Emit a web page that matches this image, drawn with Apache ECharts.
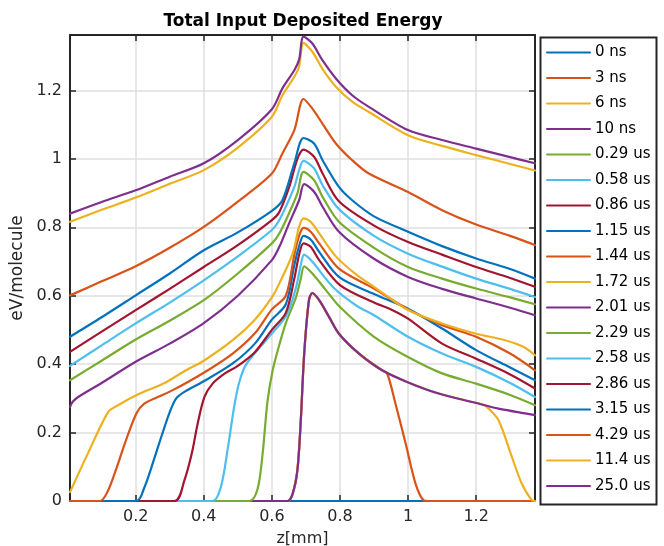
<!DOCTYPE html>
<html>
<head>
<meta charset="utf-8">
<script src="https://cdn.jsdelivr.net/npm/echarts@6/dist/echarts.min.js"></script>
<style>
  html, body { margin: 0; padding: 0; background: #fff; }
  #chart { width: 664px; height: 546px; }
</style>
</head>
<body>
<div id="chart"></div>
<script>
// legend names and MATLAB default colour order
const seriesNames = ['0 ns', '3 ns', '6 ns', '10 ns', '0.29 us', '0.58 us', '0.86 us', '1.15 us', '1.44 us',
  '1.72 us', '2.01 us', '2.29 us', '2.58 us', '2.86 us', '3.15 us', '4.29 us', '11.4 us', '25.0 us']
const colorOrder = ['#0072BD', '#D95319', '#EDB120', '#7E2F8E', '#77AC30', '#4DBEEE', '#A2142F']

// [z (mm), energy (eV/molecule)]
const e0ns = [[0.007, 0], [1.373, 0]]
const e3ns = [[0.007, 0], [0.646, 0], [0.661, 0.021], [0.675, 0.09], [0.685, 0.236], [0.695, 0.431], [0.709, 0.587],
  [0.719, 0.608], [0.739, 0.587], [0.768, 0.538], [0.797, 0.489], [0.856, 0.431], [0.924, 0.382], [0.939, 0.372],
  [0.963, 0.285], [0.993, 0.168], [1.022, 0.051], [1.046, 0.002], [1.06, 0], [1.373, 0]]
const e6ns = [[0.007, 0], [0.646, 0], [0.661, 0.021], [0.675, 0.09], [0.685, 0.236], [0.695, 0.431], [0.709, 0.587],
  [0.719, 0.608], [0.739, 0.587], [0.768, 0.538], [0.797, 0.489], [0.856, 0.431], [0.924, 0.382], [0.997, 0.348],
  [1.09, 0.314], [1.198, 0.287], [1.22, 0.282], [1.237, 0.27], [1.266, 0.236], [1.305, 0.129], [1.334, 0.051],
  [1.362, 0.004], [1.373, 0]]
const e10ns = [[0.007, 0], [0.646, 0], [0.661, 0.021], [0.675, 0.09], [0.685, 0.236], [0.695, 0.431], [0.709, 0.587],
  [0.719, 0.608], [0.739, 0.587], [0.768, 0.538], [0.797, 0.489], [0.856, 0.431], [0.924, 0.382], [0.997, 0.348],
  [1.09, 0.314], [1.198, 0.287], [1.266, 0.27], [1.373, 0.251]]
const e029us = [[0.007, 0], [0.534, 0], [0.558, 0.035], [0.573, 0.14], [0.587, 0.29], [0.602, 0.38], [0.62, 0.45],
  [0.641, 0.52], [0.671, 0.596], [0.685, 0.65], [0.695, 0.686], [0.719, 0.665], [0.76, 0.615], [0.8, 0.567],
  [0.9, 0.48], [1.0, 0.421], [1.1, 0.373], [1.2, 0.343], [1.3, 0.31], [1.373, 0.28]]
const e058us = [[0.007, 0], [0.426, 0], [0.45, 0.04], [0.47, 0.15], [0.49, 0.28], [0.505, 0.35], [0.525, 0.4],
  [0.583, 0.47], [0.641, 0.54], [0.67, 0.62], [0.685, 0.69], [0.695, 0.72], [0.719, 0.699], [0.78, 0.625],
  [0.85, 0.57], [0.9, 0.543], [1.0, 0.48], [1.1, 0.431], [1.2, 0.392], [1.3, 0.345], [1.373, 0.304]]
const e086us = [[0.007, 0], [0.314, 0], [0.343, 0.06], [0.365, 0.14], [0.382, 0.226], [0.402, 0.304], [0.426, 0.343],
  [0.461, 0.372], [0.5, 0.395], [0.55, 0.435], [0.6, 0.5], [0.641, 0.55], [0.666, 0.65], [0.68, 0.72], [0.693, 0.753],
  [0.714, 0.743], [0.739, 0.704], [0.8, 0.631], [0.9, 0.58], [0.95, 0.56], [1.0, 0.533], [1.1, 0.46], [1.2, 0.416],
  [1.3, 0.37], [1.373, 0.329]]
const e115us = [[0.007, 0], [0.202, 0], [0.226, 0.041], [0.25, 0.11], [0.275, 0.187], [0.3, 0.26], [0.319, 0.3],
  [0.343, 0.319], [0.4, 0.35], [0.485, 0.402], [0.55, 0.46], [0.6, 0.53], [0.641, 0.575], [0.666, 0.69], [0.68, 0.745],
  [0.693, 0.775], [0.714, 0.764], [0.739, 0.728], [0.797, 0.655], [0.9, 0.605], [1.0, 0.562], [1.1, 0.504],
  [1.2, 0.441], [1.3, 0.39], [1.373, 0.353]]
const e144us = [[0.007, 0], [0.095, 0], [0.119, 0.031], [0.145, 0.1], [0.168, 0.168], [0.202, 0.256], [0.226, 0.285],
  [0.265, 0.304], [0.309, 0.324], [0.4, 0.375], [0.485, 0.431], [0.55, 0.49], [0.6, 0.56], [0.641, 0.6], [0.666, 0.72],
  [0.68, 0.775], [0.693, 0.798], [0.714, 0.787], [0.739, 0.753], [0.797, 0.679], [0.9, 0.621], [1.0, 0.56],
  [1.1, 0.514], [1.2, 0.48], [1.3, 0.431], [1.373, 0.382]]
const e172us = [[0.007, 0.026], [0.06, 0.14], [0.119, 0.26], [0.148, 0.28], [0.212, 0.314], [0.285, 0.345],
  [0.348, 0.382], [0.4, 0.41], [0.485, 0.47], [0.55, 0.53], [0.6, 0.595], [0.622, 0.636], [0.661, 0.723],
  [0.68, 0.801], [0.693, 0.826], [0.714, 0.816], [0.739, 0.782], [0.788, 0.715], [0.85, 0.66], [0.9, 0.626],
  [1.0, 0.558], [1.1, 0.519], [1.2, 0.489], [1.285, 0.47], [1.34, 0.45], [1.373, 0.426]]
const e201us = [[0.007, 0.275], [0.015, 0.29], [0.031, 0.304], [0.1, 0.345], [0.2, 0.407], [0.3, 0.46], [0.4, 0.52],
  [0.5, 0.6], [0.6, 0.704], [0.622, 0.743], [0.65, 0.81], [0.68, 0.879], [0.695, 0.926], [0.724, 0.904],
  [0.749, 0.86], [0.797, 0.787], [0.9, 0.708], [1.0, 0.655], [1.1, 0.62], [1.2, 0.592], [1.3, 0.565], [1.373, 0.543]]
const e229us = [[0.007, 0.353], [0.1, 0.41], [0.2, 0.472], [0.3, 0.527], [0.4, 0.587], [0.5, 0.665], [0.6, 0.753],
  [0.622, 0.782], [0.65, 0.84], [0.675, 0.899], [0.693, 0.962], [0.724, 0.938], [0.749, 0.889], [0.797, 0.816],
  [0.9, 0.74], [1.0, 0.684], [1.1, 0.65], [1.2, 0.621], [1.3, 0.595], [1.373, 0.575]]
const e258us = [[0.007, 0.395], [0.1, 0.455], [0.2, 0.519], [0.3, 0.58], [0.4, 0.645], [0.5, 0.715], [0.6, 0.792],
  [0.622, 0.821], [0.666, 0.918], [0.68, 0.967], [0.693, 0.994], [0.724, 0.972], [0.749, 0.923], [0.797, 0.853],
  [0.9, 0.775], [1.0, 0.723], [1.1, 0.685], [1.2, 0.65], [1.3, 0.62], [1.373, 0.596]]
const e286us = [[0.007, 0.436], [0.1, 0.495], [0.2, 0.558], [0.3, 0.62], [0.4, 0.684], [0.5, 0.748], [0.6, 0.821],
  [0.622, 0.845], [0.651, 0.918], [0.675, 1.0], [0.693, 1.027], [0.724, 1.006], [0.749, 0.957], [0.797, 0.876],
  [0.9, 0.805], [1.0, 0.757], [1.1, 0.72], [1.2, 0.684], [1.3, 0.652], [1.373, 0.626]]
const e315us = [[0.007, 0.48], [0.1, 0.537], [0.2, 0.601], [0.3, 0.665], [0.4, 0.733], [0.5, 0.785], [0.6, 0.848],
  [0.631, 0.879], [0.666, 0.987], [0.693, 1.061], [0.724, 1.045], [0.749, 0.996], [0.797, 0.918], [0.836, 0.879],
  [0.9, 0.832], [1.0, 0.787], [1.1, 0.745], [1.2, 0.709], [1.3, 0.678], [1.373, 0.65]]
const e429us = [[0.007, 0.601], [0.1, 0.642], [0.2, 0.686], [0.3, 0.74], [0.4, 0.801], [0.5, 0.875], [0.6, 0.957],
  [0.631, 1.016], [0.666, 1.084], [0.693, 1.175], [0.719, 1.147], [0.748, 1.104], [0.788, 1.045], [0.836, 0.996],
  [0.885, 0.957], [1.0, 0.903], [1.1, 0.85], [1.2, 0.808], [1.3, 0.775], [1.373, 0.748]]
const e114us = [[0.007, 0.816], [0.1, 0.851], [0.2, 0.887], [0.3, 0.927], [0.4, 0.967], [0.5, 1.033], [0.6, 1.123],
  [0.631, 1.186], [0.666, 1.24], [0.68, 1.27], [0.693, 1.339], [0.719, 1.313], [0.748, 1.264], [0.788, 1.211],
  [0.836, 1.167], [0.885, 1.137], [1.0, 1.069], [1.1, 1.038], [1.2, 1.011], [1.3, 0.985], [1.373, 0.966]]
const e250us = [[0.007, 0.84], [0.1, 0.874], [0.2, 0.908], [0.3, 0.948], [0.4, 0.987], [0.5, 1.055], [0.6, 1.145],
  [0.631, 1.206], [0.666, 1.259], [0.68, 1.29], [0.693, 1.357], [0.719, 1.337], [0.748, 1.289], [0.788, 1.235],
  [0.836, 1.186], [0.885, 1.152], [1.0, 1.084], [1.1, 1.055], [1.2, 1.03], [1.3, 1.005], [1.373, 0.987]]

const allSeries = [e0ns, e3ns, e6ns, e10ns, e029us, e058us, e086us, e115us, e144us,
  e172us, e201us, e229us, e258us, e286us, e315us, e429us, e114us, e250us]

const zMin = 0.007
const zMax = 1.373
const eMax = 1.362

const font = 'DejaVu Sans'
const axisColor = '#262626'

const chart = echarts.init(document.getElementById('chart'))

// top / right axes only close the box, like MATLAB "box on"
const frameAxis = {
  axisLine: { show: true, onZero: false, lineStyle: { color: axisColor, width: 2 } },
  axisTick: { show: true, inside: true, length: 6, lineStyle: { color: axisColor, width: 1.5 } },
  axisLabel: { show: false },
  splitLine: { show: false }
}

const option = {
  backgroundColor: '#fff',
  animation: false,
  color: colorOrder,
  title: {
    text: 'Total Input Deposited Energy',
    left: 298,
    top: 8,
    textAlign: 'center',
    textStyle: { fontFamily: font, fontSize: 17, fontWeight: 'bold', color: '#000' }
  },
  grid: { left: 70, right: 129, top: 35, bottom: 45, outerBoundsMode: 'none', containLabel: false },
  legend: {
    orient: 'vertical',
    left: 538,
    top: 35,
    itemWidth: 43,
    itemHeight: 14,
    itemGap: 10.5,
    padding: [10, 6, 10, 8],
    itemStyle: { opacity: 0 },
    textStyle: { fontFamily: font, fontSize: 15, color: '#000' },
    data: seriesNames
  },
  // legend frame
  graphic: [{
    type: 'rect',
    left: 538,
    top: 35,
    shape: { width: 116, height: 467 },
    style: { fill: 'none', stroke: axisColor, lineWidth: 2 },
    silent: true
  }],
  xAxis: [
    {
      type: 'value',
      min: zMin,
      max: zMax,
      splitNumber: 7,
      minInterval: 0.2,
      maxInterval: 0.2,
      name: 'z[mm]',
      nameLocation: 'middle',
      nameGap: 30,
      nameTextStyle: { fontFamily: font, fontSize: 16, color: axisColor },
      axisLine: { onZero: false, lineStyle: { color: axisColor, width: 2 } },
      axisTick: { inside: true, length: 6, lineStyle: { color: axisColor, width: 1.5 } },
      axisLabel: { showMinLabel: false, showMaxLabel: false, fontFamily: font, fontSize: 16, color: axisColor, margin: 8 },
      splitLine: { show: true, lineStyle: { color: '#dfdfdf', width: 1.5 } }
    },
    Object.assign({ type: 'value', position: 'top', min: zMin, max: zMax, splitNumber: 7, minInterval: 0.2, maxInterval: 0.2 }, frameAxis)
  ],
  yAxis: [
    {
      type: 'value',
      min: 0,
      max: eMax,
      interval: 0.2,
      name: 'eV/molecule',
      nameLocation: 'middle',
      nameGap: 34,
      nameTextStyle: { fontFamily: font, fontSize: 17, color: axisColor },
      axisLine: { show: true, onZero: false, lineStyle: { color: axisColor, width: 2 } },
      axisTick: { show: true, inside: true, length: 6, lineStyle: { color: axisColor, width: 1.5 } },
      axisLabel: { showMaxLabel: false, fontFamily: font, fontSize: 16, color: axisColor, margin: 8 },
      splitLine: { show: true, lineStyle: { color: '#dfdfdf', width: 1.5 } }
    },
    Object.assign({ type: 'value', position: 'right', min: 0, max: eMax, interval: 0.2 }, frameAxis)
  ],
  series: allSeries.map((d, i) => ({
    name: seriesNames[i],
    type: 'line',
    data: d,
    symbol: 'none',
    showSymbol: false,
    smooth: 0.3,
    clip: true,
    lineStyle: { width: 2.2, join: 'round', cap: 'round' },
    color: colorOrder[i % colorOrder.length]
  }))
}

chart.setOption(option)
</script>
</body>
</html>
